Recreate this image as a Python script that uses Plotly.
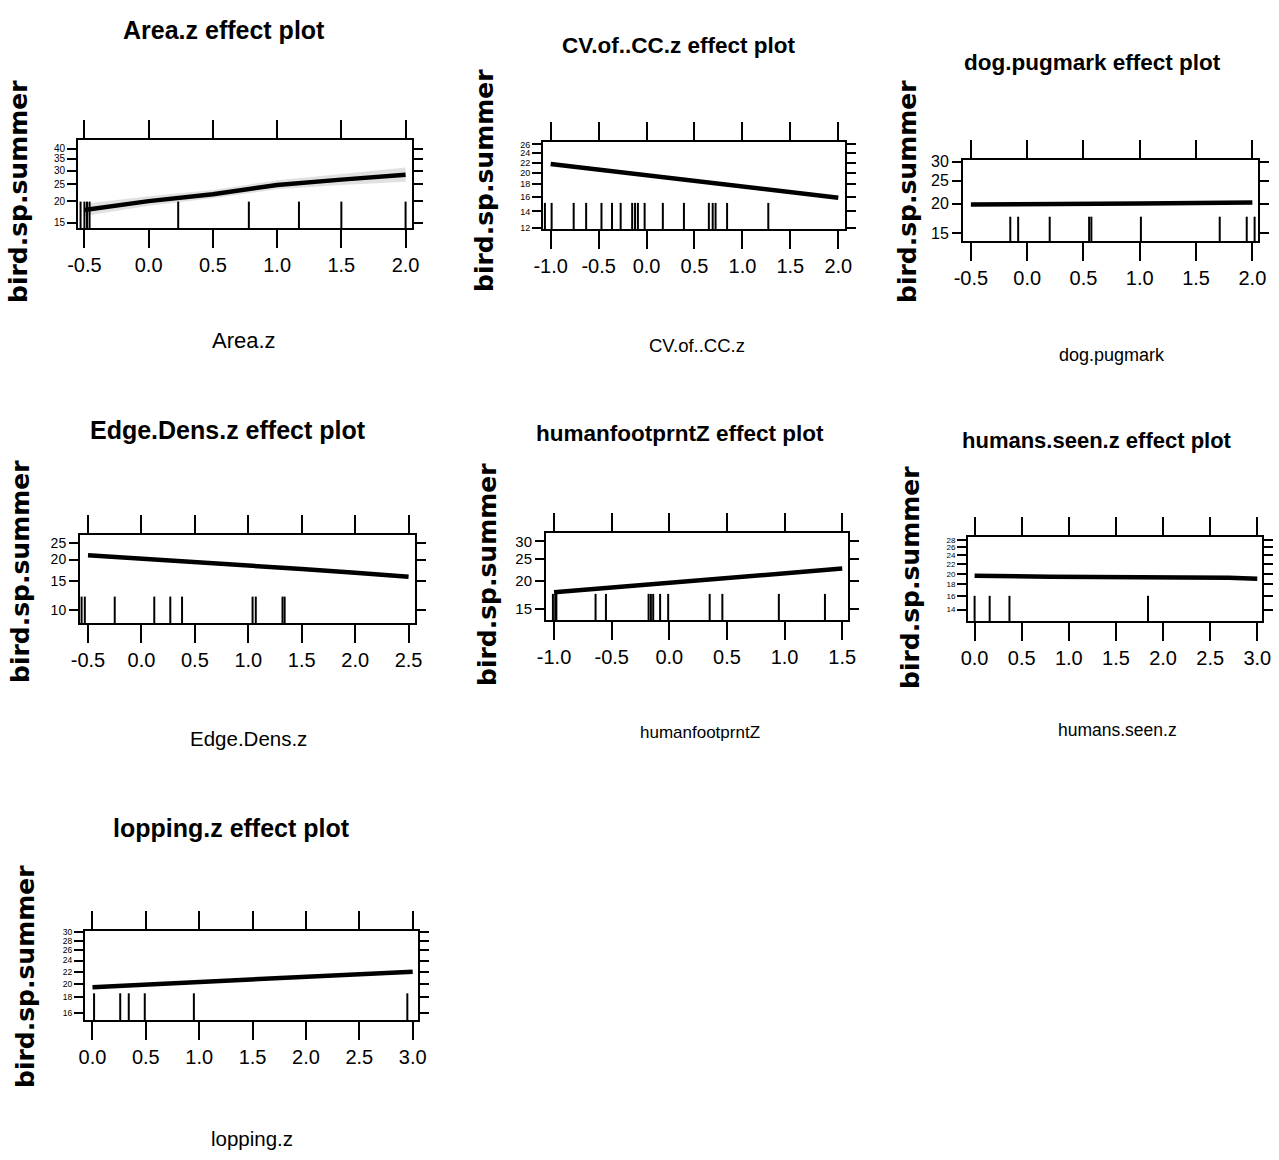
import math
import plotly.graph_objects as go

# ---------------- data ----------------
Y_LABEL = "bird.sp.summer"

titles = ["Area.z effect plot", "CV.of..CC.z effect plot", "dog.pugmark effect plot",
          "Edge.Dens.z effect plot", "humanfootprntZ effect plot",
          "humans.seen.z effect plot", "lopping.z effect plot"]
x_names = ["Area.z", "CV.of..CC.z", "dog.pugmark", "Edge.Dens.z",
           "humanfootprntZ", "humans.seen.z", "lopping.z"]

# Area.z
area_x = [-0.5, 0.0, 0.5, 1.0, 1.5, 2.0]
area_fit = [17.8, 20.0, 21.9, 24.8, 26.6, 28.4]
area_lower = [16.4, 18.8, 20.8, 23.4, 24.8, 25.9]
area_upper = [19.3, 21.3, 23.2, 26.4, 28.7, 31.2]
area_rug = [-0.53, -0.50, -0.48, -0.46, 0.23, 0.78, 1.17, 1.50, 2.00]
area_xticks = [-0.5, 0.0, 0.5, 1.0, 1.5, 2.0]
area_yticks = [15, 20, 25, 30, 35, 40]

# CV.of..CC.z
cv_x = [-1.0, -0.5, 0.0, 0.5, 1.0, 1.5, 2.0]
cv_fit = [21.7, 20.6, 19.6, 18.6, 17.6, 16.7, 15.9]
cv_rug = [-1.06, -0.99, -0.76, -0.63, -0.47, -0.36, -0.27, -0.15, -0.12, -0.09,
          -0.02, 0.17, 0.39, 0.65, 0.69, 0.72, 0.84, 1.27]
cv_xticks = [-1.0, -0.5, 0.0, 0.5, 1.0, 1.5, 2.0]
cv_yticks = [12, 14, 16, 18, 20, 22, 24, 26]

# dog.pugmark
dog_x = [-0.5, 0.0, 0.5, 1.0, 1.5, 2.0]
dog_fit = [19.8, 19.8, 19.9, 20.0, 20.1, 20.2]
dog_rug = [-0.15, -0.08, 0.20, 0.55, 0.57, 1.01, 1.71, 1.95, 2.02]
dog_xticks = [-0.5, 0.0, 0.5, 1.0, 1.5, 2.0]
dog_yticks = [15, 20, 25, 30]

# Edge.Dens.z
edge_x = [-0.5, 0.0, 0.5, 1.0, 1.5, 2.0, 2.5]
edge_fit = [21.2, 20.3, 19.4, 18.5, 17.6, 16.7, 15.8]
edge_rug = [-0.56, -0.53, -0.25, 0.12, 0.27, 0.38, 1.04, 1.07, 1.32, 1.34]
edge_xticks = [-0.5, 0.0, 0.5, 1.0, 1.5, 2.0, 2.5]
edge_yticks = [10, 15, 20, 25]

# humanfootprntZ
hum_x = [-1.0, -0.5, 0.0, 0.5, 1.0, 1.5]
hum_fit = [17.8, 18.7, 19.6, 20.6, 21.6, 22.7]
hum_rug = [-1.01, -0.99, -0.98, -0.64, -0.55, -0.18, -0.16, -0.14, -0.08, -0.01,
           0.35, 0.46, 0.95, 1.35]
hum_xticks = [-1.0, -0.5, 0.0, 0.5, 1.0, 1.5]
hum_yticks = [15, 20, 25, 30]

# humans.seen.z
seen_x = [0.0, 0.8, 2.7, 3.0]
seen_fit = [19.6, 19.4, 19.2, 19.0]
seen_rug = [0.0, 0.16, 0.37, 1.84]
seen_xticks = [0.0, 0.5, 1.0, 1.5, 2.0, 2.5, 3.0]
seen_yticks = [14, 16, 18, 20, 22, 24, 26, 28]

# lopping.z
lop_x = [0.0, 0.5, 1.0, 1.5, 2.0, 2.5, 3.0]
lop_fit = [19.5, 19.9, 20.3, 20.7, 21.1, 21.5, 22.0]
lop_rug = [0.015, 0.26, 0.34, 0.49, 0.95, 2.95]
lop_xticks = [0.0, 0.5, 1.0, 1.5, 2.0, 2.5, 3.0]
lop_yticks = [16, 18, 20, 22, 24, 26, 28, 30]

panels = [
    dict(x=area_x, fit=area_fit, lo=area_lower, hi=area_upper, rug=area_rug,
         xt=area_xticks, yt=area_yticks, xr=(-0.55, 2.05), yr=(14.0, 45.0)),
    dict(x=cv_x, fit=cv_fit, rug=cv_rug, xt=cv_xticks, yt=cv_yticks,
         xr=(-1.08, 2.07), yr=(11.9, 26.6)),
    dict(x=dog_x, fit=dog_fit, rug=dog_rug, xt=dog_xticks, yt=dog_yticks,
         xr=(-0.57, 2.05), yr=(13.9, 30.5)),
    dict(x=edge_x, fit=edge_fit, rug=edge_rug, xt=edge_xticks, yt=edge_yticks,
         xr=(-0.575, 2.56), yr=(8.4, 28.0)),
    dict(x=hum_x, fit=hum_fit, rug=hum_rug, xt=hum_xticks, yt=hum_yticks,
         xr=(-1.07, 1.55), yr=(13.4, 32.7)),
    dict(x=seen_x, fit=seen_fit, rug=seen_rug, xt=seen_xticks, yt=seen_yticks,
         xr=(-0.07, 3.05), yr=(12.5, 28.8)),
    dict(x=lop_x, fit=lop_fit, rug=lop_rug, xt=lop_xticks, yt=lop_yticks,
         xr=(-0.07, 3.05), yr=(15.1, 30.2)),
]

# ---------------- layout geometry / styling ----------------
W, H = 1279, 1160
boxes = [  # left, right, top, bottom (pixels)
    (78, 412, 140, 228), (543, 845, 142, 229), (963, 1258, 160, 241),
    (80, 415, 535, 623), (546, 848, 533, 620), (968, 1262, 537, 621),
    (85, 418, 931, 1020),
]
title_pos = [(224, 30), (678, 45), (1092, 62), (228, 430), (680, 433), (1097, 440), (232, 828)]
title_size = [25, 22.5, 22.5, 25, 22.5, 22, 25]
xname_pos = [(244, 340), (697, 345), (1112, 355), (248, 738), (700, 732), (1117, 730), (252, 1138)]
xname_size = [22, 18.5, 18, 20.5, 17, 17.5, 20.5]
yname_pos = [(18, 192), (485, 180), (907, 192), (20, 572), (487, 575), (910, 578), (25, 977)]
ytick_size = [10, 9, 16, 14, 15, 8, 8.5]

FONT = "Liberation Sans, Arial, sans-serif"

fig = go.Figure()
layout = dict(width=W, height=H, margin=dict(l=0, r=0, t=0, b=0, pad=0),
              autosize=False,
              paper_bgcolor="white", plot_bgcolor="white", showlegend=False)
annotations = []
shapes = []


def px(xp):
    return xp / W


def py(yp):
    return 1 - yp / H


def fmt(v):
    return f"{v:.1f}"


for i, (p, b) in enumerate(zip(panels, boxes), start=1):
    k = i - 1
    sfx = "" if i == 1 else str(i)
    xa, ya = f"x{sfx}", f"y{sfx}"
    l, r, t, bt = b
    layout[f"xaxis{sfx}"] = dict(
        domain=[px(l), px(r)], anchor=ya, range=list(p["xr"]), automargin=False,
        tickvals=p["xt"], ticktext=[fmt(v) for v in p["xt"]],
        showline=True, linecolor="black", linewidth=2, mirror="allticks",
        ticks="outside", ticklen=18, tickwidth=2, tickcolor="black",
        showgrid=False, zeroline=False,
        tickfont=dict(family=FONT, size=20, color="black"))
    layout[f"yaxis{sfx}"] = dict(
        domain=[py(bt), py(t)], anchor=xa, type="log", automargin=False,
        range=[math.log10(p["yr"][0]), math.log10(p["yr"][1])],
        tickvals=p["yt"], ticktext=[str(v) for v in p["yt"]],
        showline=True, linecolor="black", linewidth=2, mirror="allticks",
        ticks="outside", ticklen=9, tickwidth=2, tickcolor="black",
        showgrid=False, zeroline=False,
        tickfont=dict(family=FONT, size=ytick_size[k], color="black"))
    if "lo" in p:
        fig.add_trace(go.Scatter(x=p["x"] + p["x"][::-1], y=p["hi"] + p["lo"][::-1],
                                 xaxis=xa, yaxis=ya, fill="toself", mode="lines",
                                 line=dict(width=0), fillcolor="rgba(170,170,170,0.35)",
                                 hoverinfo="skip"))
    fig.add_trace(go.Scatter(x=p["x"], y=p["fit"], xaxis=xa, yaxis=ya, mode="lines",
                             line=dict(color="black", width=4.5)))
    for rv in p["rug"]:
        shapes.append(dict(type="line", xref=xa, yref=f"{ya} domain",
                           x0=rv, x1=rv, y0=0, y1=0.3,
                           line=dict(color="black", width=2)))
    annotations.append(dict(text=f"<b>{titles[k]}</b>", x=px(title_pos[k][0]),
                            y=py(title_pos[k][1]), xref="paper", yref="paper",
                            showarrow=False, xanchor="center", yanchor="middle",
                            font=dict(family=FONT, size=title_size[k], color="black")))
    annotations.append(dict(text=x_names[k], x=px(xname_pos[k][0]),
                            y=py(xname_pos[k][1]), xref="paper", yref="paper",
                            showarrow=False, xanchor="center", yanchor="middle",
                            font=dict(family=FONT, size=xname_size[k], color="black")))
    annotations.append(dict(text=f"<b>{Y_LABEL}</b>", x=px(yname_pos[k][0]),
                            y=py(yname_pos[k][1]), xref="paper", yref="paper",
                            showarrow=False, textangle=-90, xanchor="center",
                            yanchor="middle",
                            font=dict(family="DejaVu Sans", size=25, color="black")))

layout["annotations"] = annotations
layout["shapes"] = shapes
fig.update_layout(**layout)
fig.write_html("out.html", config={"displayModeBar": False},
               post_script="document.body.style.margin='0';document.body.style.overflow='hidden';")
